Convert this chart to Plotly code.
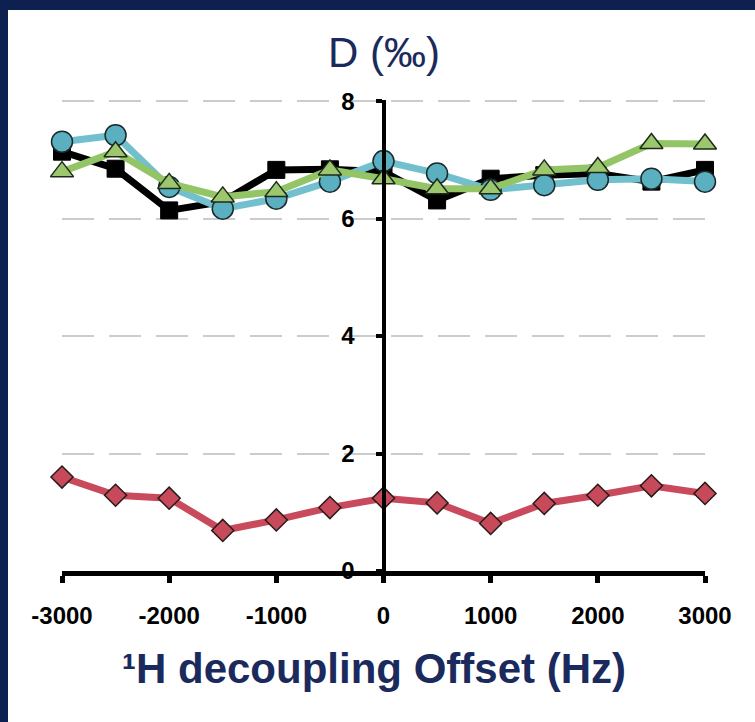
import plotly.graph_objects as go

offsets = [-3000, -2500, -2000, -1500, -1000, -500, 0, 500, 1000, 1500, 2000, 2500, 3000]
black_sq = [7.14, 6.85, 6.14, 6.29, 6.83, 6.84, 6.80, 6.31, 6.68, 6.74, 6.77, 6.63, 6.83]
cyan_ci = [7.31, 7.42, 6.54, 6.17, 6.34, 6.63, 6.98, 6.77, 6.49, 6.57, 6.66, 6.68, 6.63]
green_tr = [6.80, 7.14, 6.60, 6.37, 6.46, 6.83, 6.68, 6.51, 6.51, 6.83, 6.87, 7.28, 7.27]
red_di = [1.60, 1.29, 1.24, 0.69, 0.87, 1.08, 1.24, 1.16, 0.81, 1.15, 1.29, 1.45, 1.32]

x_ticks = [-3000, -2000, -1000, 0, 1000, 2000, 3000]
y_ticks = [0, 2, 4, 6, 8]

NAVY = "#1b2a5c"
W, H = 755, 722
ML, MR, MT, MB = 62, 50, 100, 151
PW, PH = W - ML - MR, H - MT - MB

def px2x(px):
    return (px - ML) / PW

def py2y(py):
    return (H - MB - py) / PH

fig = go.Figure()

fig.add_trace(go.Scatter(
    x=offsets, y=black_sq, mode="lines+markers",
    line=dict(color="#000000", width=7),
    marker=dict(symbol="square", size=17, color="#000000", line=dict(color="#000000", width=1)),
    cliponaxis=False, showlegend=False))
fig.add_trace(go.Scatter(
    x=offsets, y=cyan_ci, mode="lines+markers",
    line=dict(color="#72c0ce", width=7),
    marker=dict(symbol="circle", size=21, color="#5aafc0", line=dict(color="#1a2a2a", width=1.5)),
    cliponaxis=False, showlegend=False))
fig.add_trace(go.Scatter(
    x=offsets, y=green_tr, mode="lines+markers",
    line=dict(color="#93c465", width=7),
    marker=dict(symbol="triangle-up", size=20, color="#9cc76e", line=dict(color="#1e2a1a", width=1.5)),
    cliponaxis=False, showlegend=False))
fig.add_trace(go.Scatter(
    x=offsets, y=red_di, mode="lines+markers",
    line=dict(color="#c94a5c", width=7),
    marker=dict(symbol="diamond", size=17, color="#c64a5a", line=dict(color="#2a1a1a", width=1.5)),
    cliponaxis=False, showlegend=False))

fig.update_layout(
    width=W, height=H,
    margin=dict(l=ML, r=MR, t=MT, b=MB),
    paper_bgcolor="white", plot_bgcolor="white",
    xaxis=dict(
        range=[-3000, 3000], tickvals=x_ticks, ticktext=[str(v) for v in x_ticks],
        showgrid=False, zeroline=False,
        showline=True, linecolor="black", linewidth=5,
        ticks="outside", ticklen=7, tickwidth=5, tickcolor="black",
        ticklabelstandoff=12,
        tickfont=dict(family="Liberation Sans, Arial", size=24, color="black", weight="bold"),
    ),
    yaxis=dict(
        range=[0, 8.02], tickvals=y_ticks, ticktext=[str(v) for v in y_ticks],
        anchor="free", position=0.5,
        showgrid=True, gridcolor="#cccccc", gridwidth=2, griddash="32px,15px",
        zeroline=False,
        showline=True, linecolor="black", linewidth=4,
        ticks="outside", ticklen=6, tickwidth=4, tickcolor="black",
        ticklabelstandoff=16,
        tickfont=dict(family="Liberation Sans, Arial", size=24, color="black", weight="bold"),
    ),
    annotations=[
        dict(text="D (‰)", xref="paper", yref="paper", x=px2x(384), y=py2y(52),
             xanchor="center", yanchor="middle", showarrow=False,
             font=dict(family="Liberation Sans, Arial", size=42, color=NAVY)),
        dict(text="¹H decoupling Offset (Hz)", xref="paper", yref="paper", x=px2x(374), y=py2y(668),
             xanchor="center", yanchor="middle", showarrow=False,
             font=dict(family="Liberation Sans, Arial", size=42, color=NAVY, weight="bold")),
    ],
    shapes=[
        dict(type="rect", xref="paper", yref="paper", x0=px2x(0), x1=px2x(W),
             y0=py2y(10), y1=py2y(0), fillcolor="#0e2050", line=dict(width=0), layer="above"),
        dict(type="rect", xref="paper", yref="paper", x0=px2x(0), x1=px2x(8),
             y0=py2y(H), y1=py2y(0), fillcolor="#0e2050", line=dict(width=0), layer="above"),
    ],
)

fig.write_html("out.html", config={"displayModeBar": False},
               post_script="document.body.style.margin='0';document.body.style.padding='0';")
